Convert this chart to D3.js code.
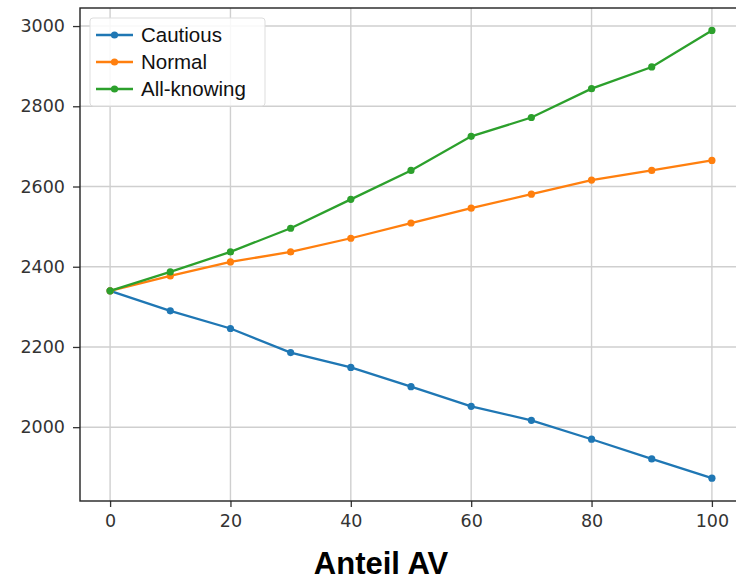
<!DOCTYPE html>
<html>
<head>
<meta charset="utf-8">
<script src="https://cdn.jsdelivr.net/npm/d3@7"></script>
<style>
  body { margin: 0; background: #fff; }
  svg { display: block; }
</style>
</head>
<body>
<div id="chart"></div>
<script>
const xValues = [0, 10, 20, 30, 40, 50, 60, 70, 80, 90, 100];
const cautious = [2340, 2290, 2246, 2186, 2149, 2101, 2052, 2017, 1970, 1921, 1873];
const normal = [2340, 2377, 2412, 2437, 2471, 2509, 2546, 2581, 2616, 2640, 2665];
const allKnowing = [2340, 2387, 2437, 2496, 2568, 2640, 2725, 2772, 2844, 2898, 2989];
const seriesNames = ["Cautious", "Normal", "All-knowing"];
const seriesColors = ["#1f77b4", "#ff7f0e", "#2ca02c"];
const xTicks = [0, 20, 40, 60, 80, 100];
const yTicks = [2000, 2200, 2400, 2600, 2800, 3000];

const W = 736, H = 582;
const plot = {left: 80, top: 8, bottom: 501, right: 742};

const x = d3.scaleLinear().domain([-5, 105]).range([plot.left, plot.right]);
const y = d3.scaleLinear().domain([1816, 3045]).range([plot.bottom, plot.top]);

const svg = d3.select("#chart").append("svg")
  .attr("width", W)
  .attr("height", H);

// grid
svg.append("g")
  .selectAll("line")
  .data(xTicks)
  .join("line")
    .attr("x1", d => x(d)).attr("x2", d => x(d))
    .attr("y1", plot.top).attr("y2", plot.bottom)
    .attr("stroke", "#cfcfcf").attr("stroke-width", 1.4);

svg.append("g")
  .selectAll("line")
  .data(yTicks)
  .join("line")
    .attr("x1", plot.left).attr("x2", plot.right)
    .attr("y1", d => y(d)).attr("y2", d => y(d))
    .attr("stroke", "#cfcfcf").attr("stroke-width", 1.4);

// axes
const xAxis = svg.append("g")
  .attr("transform", "translate(0," + plot.bottom + ")")
  .call(d3.axisBottom(x).tickValues(xTicks).tickSize(6).tickPadding(8));
const yAxis = svg.append("g")
  .attr("transform", "translate(" + plot.left + ",0)")
  .call(d3.axisLeft(y).tickValues(yTicks).tickSize(7).tickPadding(8).tickFormat(d3.format("d")));

[xAxis, yAxis].forEach(function (a) {
  a.select(".domain").remove();
  a.selectAll("line").attr("stroke", "#333").attr("stroke-width", 1.3);
  a.selectAll("text")
    .attr("fill", "#333")
    .style("font-family", "DejaVu Sans, sans-serif")
    .style("font-size", "17.5px");
});

// spines
svg.append("rect")
  .attr("x", plot.left).attr("y", plot.top)
  .attr("width", plot.right - plot.left).attr("height", plot.bottom - plot.top)
  .attr("fill", "none").attr("stroke", "#222").attr("stroke-width", 1.4);

// series
const allSeries = [cautious, normal, allKnowing];
const line = d3.line()
  .x((d, i) => x(xValues[i]))
  .y(d => y(d));

allSeries.forEach(function (values, k) {
  const g = svg.append("g");
  g.append("path")
    .datum(values)
    .attr("d", line)
    .attr("fill", "none")
    .attr("stroke", seriesColors[k])
    .attr("stroke-width", 2.3);
  g.selectAll("circle")
    .data(values)
    .join("circle")
      .attr("cx", (d, i) => x(xValues[i]))
      .attr("cy", d => y(d))
      .attr("r", 3.6)
      .attr("fill", seriesColors[k]);
});

// legend
const legend = svg.append("g");
legend.append("rect")
  .attr("x", 90).attr("y", 18)
  .attr("width", 175).attr("height", 88)
  .attr("rx", 3)
  .attr("fill", "rgba(255,255,255,0.85)")
  .attr("stroke", "#ddd");

seriesNames.forEach(function (name, k) {
  const ly = 35 + k * 27;
  legend.append("line")
    .attr("x1", 96).attr("x2", 133)
    .attr("y1", ly).attr("y2", ly)
    .attr("stroke", seriesColors[k]).attr("stroke-width", 2.3);
  legend.append("circle")
    .attr("cx", 114.5).attr("cy", ly).attr("r", 3.6)
    .attr("fill", seriesColors[k]);
  legend.append("text")
    .attr("x", 141).attr("y", ly + 7)
    .style("font-family", "Liberation Sans, Arial, sans-serif")
    .style("font-size", "20.5px")
    .attr("fill", "#111")
    .text(name);
});

// x label
svg.append("text")
  .attr("x", 381).attr("y", 574)
  .attr("text-anchor", "middle")
  .style("font-family", "Liberation Sans, Arial, sans-serif")
  .style("font-size", "31px")
  .style("font-weight", "bold")
  .attr("fill", "#000")
  .text("Anteil AV");
</script>
</body>
</html>
